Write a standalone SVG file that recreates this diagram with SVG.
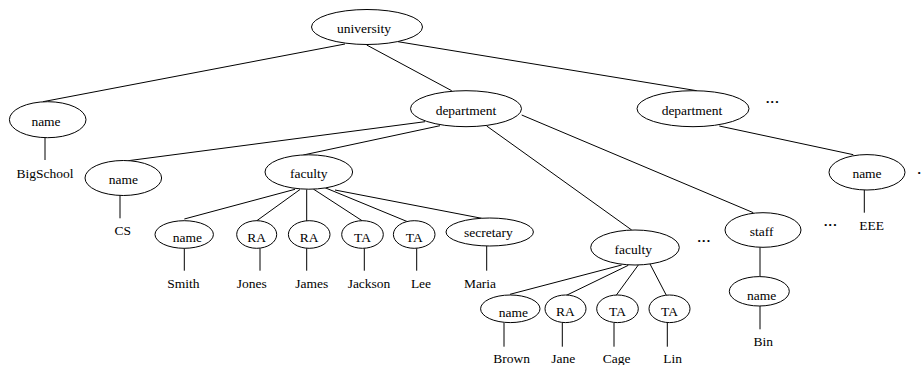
<svg xmlns="http://www.w3.org/2000/svg" width="922" height="365" viewBox="0 0 922 365">
<style>
.n{fill:#fff;stroke:#000;stroke-width:1}
.e{stroke:#000;stroke-width:1;fill:none}
text{font-family:"Liberation Serif","Times New Roman",serif;font-size:13.5px;fill:#000;text-anchor:middle}
.d{text-anchor:start;letter-spacing:1.2px;font-weight:bold}
</style>
<rect width="922" height="365" fill="#fff"/>
<g id="connectors">
<line class="e" x1="345" y1="44" x2="43" y2="101.7"/>
<line class="e" x1="366.7" y1="45" x2="451.7" y2="90.7"/>
<line class="e" x1="398" y1="41.7" x2="696.7" y2="90.7"/>
<line class="e" x1="45" y1="138" x2="45" y2="160"/>
<line class="e" x1="425" y1="121.7" x2="128.3" y2="160.7"/>
<line class="e" x1="440" y1="125.7" x2="303.3" y2="155"/>
<line class="e" x1="486.7" y1="126" x2="631.7" y2="230"/>
<line class="e" x1="521.7" y1="115" x2="753.3" y2="212.7"/>
<line class="e" x1="719.3" y1="126" x2="853.3" y2="154.7"/>
<line class="e" x1="864.3" y1="190" x2="864.3" y2="212.7"/>
<line class="e" x1="120" y1="195" x2="120" y2="218.3"/>
<line class="e" x1="295" y1="189.3" x2="184.3" y2="219"/>
<line class="e" x1="300" y1="189.5" x2="255" y2="222"/>
<line class="e" x1="306.7" y1="189.5" x2="306.7" y2="221"/>
<line class="e" x1="313.3" y1="189" x2="363.3" y2="221.5"/>
<line class="e" x1="323.3" y1="187" x2="408.3" y2="222"/>
<line class="e" x1="335" y1="190" x2="481.7" y2="218.3"/>
<line class="e" x1="184.3" y1="248.3" x2="184.3" y2="270.7"/>
<line class="e" x1="260" y1="248.3" x2="260" y2="270.7"/>
<line class="e" x1="306.7" y1="248.3" x2="306.7" y2="270.7"/>
<line class="e" x1="364.3" y1="248.3" x2="364.3" y2="270.7"/>
<line class="e" x1="416.7" y1="248.3" x2="416.7" y2="270.7"/>
<line class="e" x1="486.7" y1="246" x2="486.7" y2="270.7"/>
<line class="e" x1="621.7" y1="265" x2="510" y2="294.3"/>
<line class="e" x1="628.3" y1="265.3" x2="565" y2="296"/>
<line class="e" x1="638.3" y1="265" x2="615.7" y2="296"/>
<line class="e" x1="650" y1="264" x2="666.7" y2="296"/>
<line class="e" x1="504" y1="322.7" x2="504" y2="346.7"/>
<line class="e" x1="562.3" y1="322.7" x2="562.3" y2="346.7"/>
<line class="e" x1="614" y1="322.7" x2="614" y2="346.7"/>
<line class="e" x1="667.3" y1="322.7" x2="667.3" y2="346.7"/>
<line class="e" x1="760" y1="247.3" x2="760" y2="276.7"/>
<line class="e" x1="760" y1="306" x2="760" y2="329.3"/>
</g>
<g id="university"><ellipse class="n" cx="367" cy="27" rx="55.5" ry="17.5"/><text x="364" y="33">university</text></g>
<g id="name-bigschool"><ellipse class="n" cx="47.7" cy="119.7" rx="38.3" ry="18"/><text x="46" y="126">name</text></g>
<g id="val-bigschool"><text x="45" y="178">BigSchool</text></g>
<g id="department1"><ellipse class="n" cx="466" cy="108.7" rx="55.5" ry="18"/><text x="466" y="114.5">department</text></g>
<g id="department2"><ellipse class="n" cx="693" cy="108.7" rx="56" ry="18"/><text x="692" y="114.5">department</text></g>
<g id="dots1"><text class="d" x="766" y="103">...</text></g>
<g id="name-eee"><ellipse class="n" cx="867" cy="172.3" rx="38" ry="17.7"/><text x="867" y="178">name</text></g>
<g id="dots-edge"><text class="d" x="917.5" y="173.5">.</text></g>
<g id="val-eee"><text x="871.7" y="230">EEE</text></g>
<g id="dots2"><text class="d" x="824" y="225.5">...</text></g>
<g id="name-cs"><ellipse class="n" cx="123.3" cy="178" rx="38.3" ry="17.5"/><text x="123.3" y="184">name</text></g>
<g id="val-cs"><text x="122.7" y="235">CS</text></g>
<g id="faculty1"><ellipse class="n" cx="308.8" cy="172" rx="43.8" ry="17.2"/><text x="308.8" y="178">faculty</text></g>
<g id="name-smith"><ellipse class="n" cx="184.2" cy="234.5" rx="29.2" ry="13.8"/><text x="187.3" y="241.5">name</text></g>
<g id="ra1"><ellipse class="n" cx="256.7" cy="234.5" rx="20" ry="13.8"/><text x="256.7" y="241.5">RA</text></g>
<g id="ra2"><ellipse class="n" cx="309.2" cy="234.5" rx="20.8" ry="13.8"/><text x="309.2" y="241.5">RA</text></g>
<g id="ta1"><ellipse class="n" cx="362.5" cy="234.5" rx="20.8" ry="13.8"/><text x="362.5" y="241.5">TA</text></g>
<g id="ta2"><ellipse class="n" cx="414.2" cy="234.5" rx="20.8" ry="13.8"/><text x="414.2" y="241.5">TA</text></g>
<g id="secretary"><ellipse class="n" cx="489.7" cy="232" rx="43.7" ry="14"/><text x="488.3" y="236.5">secretary</text></g>
<g id="val-smith"><text x="183.3" y="288.3">Smith</text></g>
<g id="val-jones"><text x="251.7" y="288.3">Jones</text></g>
<g id="val-james"><text x="311.7" y="288.3">James</text></g>
<g id="val-jackson"><text x="369" y="288.3">Jackson</text></g>
<g id="val-lee"><text x="421" y="288.3">Lee</text></g>
<g id="val-maria"><text x="480" y="288.3">Maria</text></g>
<g id="faculty2"><ellipse class="n" cx="635" cy="247.5" rx="44.3" ry="17.5"/><text x="633.3" y="253.5">faculty</text></g>
<g id="dots3"><text class="d" x="697.5" y="242">...</text></g>
<g id="staff"><ellipse class="n" cx="763" cy="230" rx="38" ry="17.3"/><text x="761.7" y="236">staff</text></g>
<g id="name-bin"><ellipse class="n" cx="759.3" cy="291.3" rx="30" ry="14.7"/><text x="761.7" y="300">name</text></g>
<g id="val-bin"><text x="763.3" y="346">Bin</text></g>
<g id="name-brown"><ellipse class="n" cx="510.3" cy="308.8" rx="29.7" ry="13.8"/><text x="513.3" y="317">name</text></g>
<g id="ra3"><ellipse class="n" cx="565.5" cy="308.8" rx="20.5" ry="13.8"/><text x="565.5" y="315.8">RA</text></g>
<g id="ta3"><ellipse class="n" cx="617.5" cy="308.8" rx="20.8" ry="13.8"/><text x="617.5" y="315.8">TA</text></g>
<g id="ta4"><ellipse class="n" cx="669.5" cy="308.8" rx="20.5" ry="13.8"/><text x="669.5" y="315.8">TA</text></g>
<g id="val-brown"><text x="511.7" y="363.3">Brown</text></g>
<g id="val-jane"><text x="563.3" y="363.3">Jane</text></g>
<g id="val-cage"><text x="616.7" y="363.3">Cage</text></g>
<g id="val-lin"><text x="672.7" y="363.3">Lin</text></g>
</svg>
